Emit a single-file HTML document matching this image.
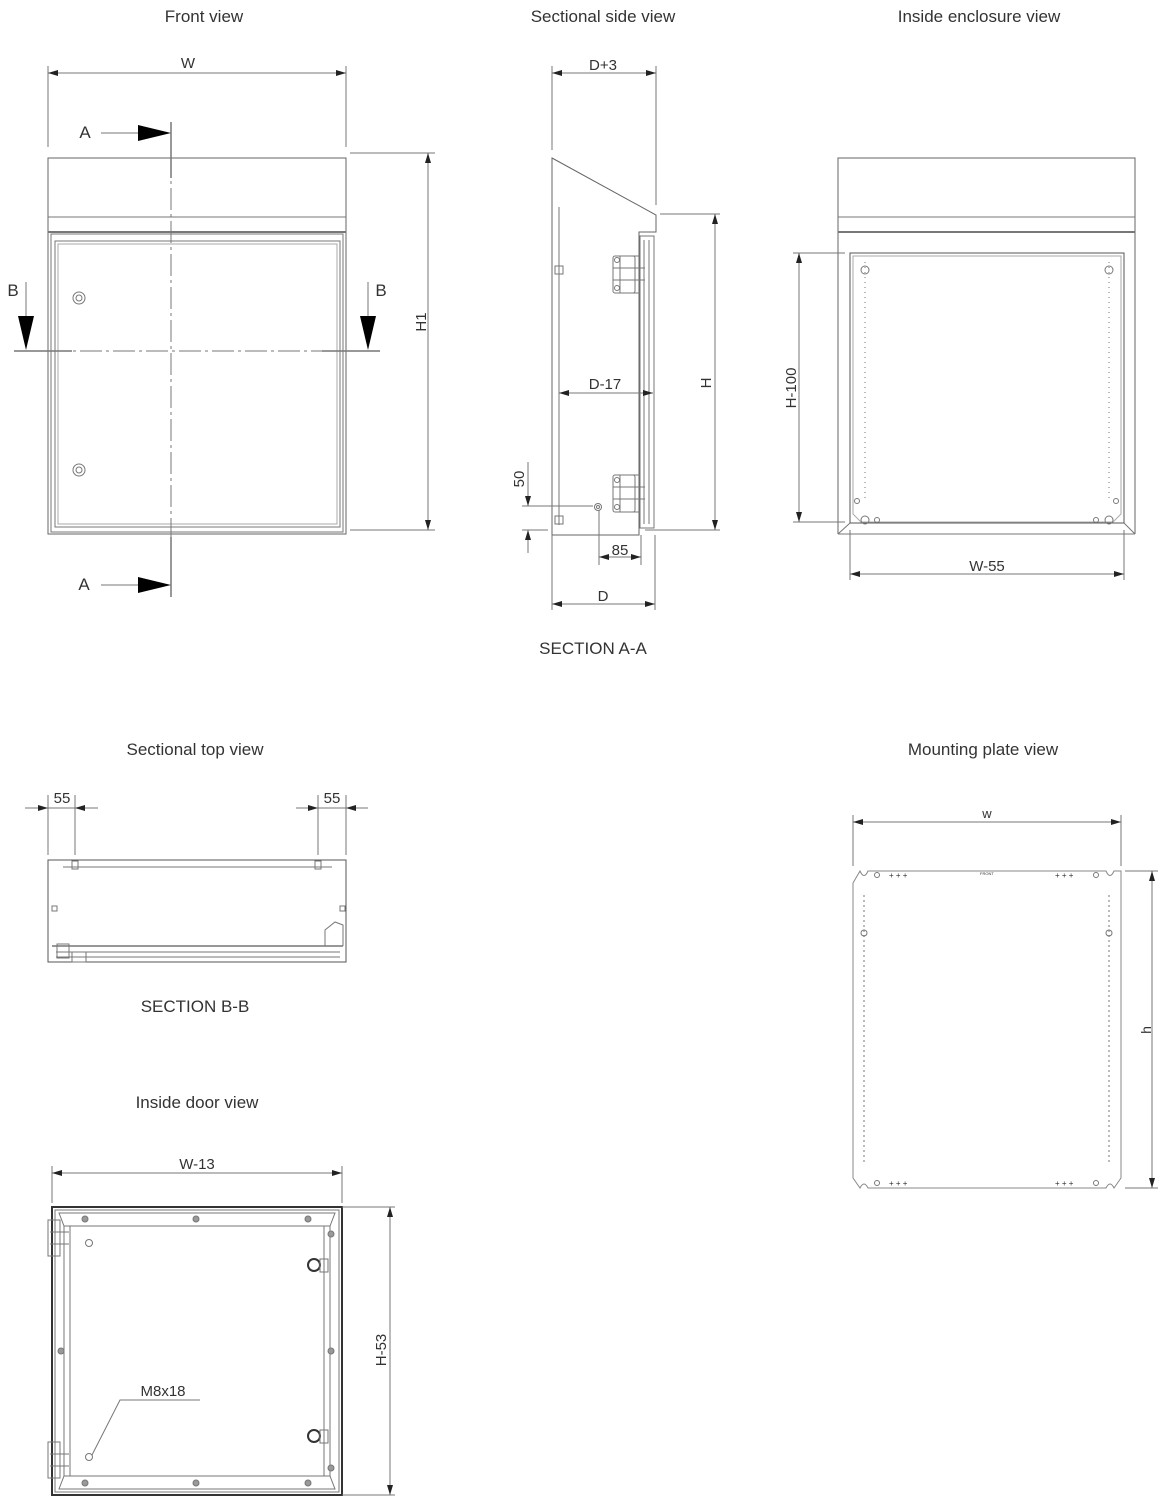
<!DOCTYPE html>
<html><head><meta charset="utf-8"><style>
html,body{margin:0;padding:0;background:#fff}
svg{display:block}
text{font-family:"Liberation Sans",sans-serif;fill:#333}
</style></head><body>
<svg width="1162" height="1500" viewBox="0 0 1162 1500" xmlns="http://www.w3.org/2000/svg">
<defs>
<marker id="ar" viewBox="0 0 10 6" refX="10" refY="3" markerWidth="10" markerHeight="6" orient="auto-start-reverse" markerUnits="userSpaceOnUse"><path d="M0,0 L10,3 L0,6 z" fill="#222"/></marker>
</defs>
<g font-size="17" text-anchor="middle">
<text x="204" y="22">Front view</text>
<text x="603" y="22">Sectional side view</text>
<text x="979" y="22">Inside enclosure view</text>
<text x="195" y="755">Sectional top view</text>
<text x="983" y="755">Mounting plate view</text>
<text x="197" y="1108">Inside door view</text>
<text x="593" y="654">SECTION A-A</text>
<text x="195" y="1012">SECTION B-B</text>
</g>

<g fill="none" stroke="#777" stroke-width="1">
<!-- FRONT VIEW -->
<line x1="48" y1="66" x2="48" y2="147"/><line x1="346" y1="66" x2="346" y2="147"/>
<line x1="48" y1="73" x2="346" y2="73" marker-start="url(#ar)" marker-end="url(#ar)"/>
<rect x="48" y="158" width="298" height="376" stroke="#666"/>
<line x1="48" y1="217" x2="346" y2="217"/>
<line x1="48" y1="232" x2="346" y2="232" stroke-width="2"/>
<rect x="51" y="234" width="292" height="298"/>
<rect x="55" y="241" width="285" height="286"/>
<rect x="58" y="244" width="279" height="280" stroke="#aaa"/>
<circle cx="79" cy="298" r="6"/><circle cx="79" cy="298" r="3"/>
<circle cx="79" cy="470" r="6"/><circle cx="79" cy="470" r="3"/>
<line x1="350" y1="153" x2="435" y2="153"/><line x1="350" y1="530" x2="435" y2="530"/>
<line x1="428" y1="153" x2="428" y2="530" marker-start="url(#ar)" marker-end="url(#ar)"/>
<line x1="171" y1="122" x2="171" y2="597" stroke-dasharray="22,4,3,4"/>
<line x1="171" y1="122" x2="171" y2="178" stroke-width="1.5"/>
<line x1="171" y1="537" x2="171" y2="597" stroke-width="1.5"/>
<line x1="14" y1="351" x2="380" y2="351" stroke-dasharray="22,4,3,4"/>
<line x1="14" y1="351" x2="72" y2="351" stroke-width="1.5"/>
<line x1="322" y1="351" x2="380" y2="351" stroke-width="1.5"/>
<line x1="101" y1="133" x2="138" y2="133"/><line x1="101" y1="585" x2="138" y2="585"/>
<line x1="26" y1="282" x2="26" y2="316"/><line x1="368" y1="282" x2="368" y2="316"/>

<!-- SIDE VIEW -->
<line x1="552" y1="66" x2="552" y2="150"/><line x1="656" y1="66" x2="656" y2="205"/>
<line x1="552" y1="73" x2="656" y2="73" marker-start="url(#ar)" marker-end="url(#ar)"/>
<path d="M552,158 L656,215 L656,232 L639,232 L639,535 L552,535 Z" stroke="#666"/>
<line x1="559" y1="207" x2="559" y2="525"/>
<rect x="640" y="236" width="14" height="292"/>
<line x1="644" y1="240" x2="644" y2="524"/><line x1="649" y1="240" x2="649" y2="524"/>
<rect x="613" y="256" width="22" height="37" rx="2"/><rect x="620" y="256" width="20" height="37"/>
<line x1="613" y1="268" x2="645" y2="268"/><line x1="613" y1="280" x2="645" y2="280"/>
<circle cx="617" cy="260" r="2.5"/><circle cx="617" cy="288" r="2.5"/>
<rect x="613" y="475" width="22" height="37" rx="2"/><rect x="620" y="475" width="20" height="37"/>
<line x1="613" y1="487" x2="645" y2="487"/><line x1="613" y1="499" x2="645" y2="499"/>
<circle cx="617" cy="480" r="2.5"/><circle cx="617" cy="507" r="2.5"/>
<rect x="555" y="266" width="8" height="8"/><rect x="555" y="516" width="8" height="8"/>
<circle cx="598" cy="507" r="3.5"/><circle cx="598" cy="507" r="1.5"/>
<line x1="559" y1="393" x2="653" y2="393" marker-start="url(#ar)" marker-end="url(#ar)"/>
<line x1="660" y1="214" x2="720" y2="214"/><line x1="645" y1="530" x2="720" y2="530"/>
<line x1="715" y1="214" x2="715" y2="530" marker-start="url(#ar)" marker-end="url(#ar)"/>
<line x1="522" y1="506" x2="593" y2="506"/><line x1="522" y1="530" x2="548" y2="530"/>
<line x1="528" y1="462" x2="528" y2="506" marker-end="url(#ar)"/>
<line x1="528" y1="553" x2="528" y2="530" marker-end="url(#ar)"/>
<line x1="599" y1="510" x2="599" y2="565"/><line x1="641" y1="535" x2="641" y2="565"/>
<line x1="599" y1="557" x2="641" y2="557" marker-start="url(#ar)" marker-end="url(#ar)"/>
<line x1="552" y1="535" x2="552" y2="610"/><line x1="655" y1="535" x2="655" y2="610"/>
<line x1="552" y1="604" x2="655" y2="604" marker-start="url(#ar)" marker-end="url(#ar)"/>

<!-- INSIDE ENCLOSURE -->
<path d="M838,534 L838,158 L1135,158 L1135,534" stroke="#666"/>
<line x1="838" y1="217" x2="1135" y2="217"/>
<line x1="838" y1="232" x2="1135" y2="232" stroke-width="2"/>
<path d="M850,253 L1124,253 L1124,523 L850,523 Z" stroke="#555"/>
<path d="M853,256 L1121,256 L1121,514 L1113,522 L861,522 L853,514 Z" stroke="#aaa"/>
<path d="M838,534 L850,523 M1135,534 L1124,523 M838,534 L1135,534"/>
<line x1="865" y1="262" x2="865" y2="500" stroke-dasharray="1,4"/>
<line x1="1109" y1="262" x2="1109" y2="500" stroke-dasharray="1,4"/>
<circle cx="865" cy="270" r="4"/><circle cx="1109" cy="270" r="4"/>
<circle cx="865" cy="520" r="4"/><circle cx="1109" cy="520" r="4"/>
<circle cx="857" cy="501" r="2.5"/><circle cx="1116" cy="501" r="2.5"/>
<circle cx="877" cy="520" r="2.5"/><circle cx="1096" cy="520" r="2.5"/>
<line x1="793" y1="253" x2="845" y2="253"/><line x1="793" y1="522" x2="845" y2="522"/>
<line x1="799" y1="253" x2="799" y2="522" marker-start="url(#ar)" marker-end="url(#ar)"/>
<line x1="850" y1="530" x2="850" y2="580"/><line x1="1124" y1="530" x2="1124" y2="580"/>
<line x1="850" y1="574" x2="1124" y2="574" marker-start="url(#ar)" marker-end="url(#ar)"/>

<!-- TOP VIEW -->
<line x1="25" y1="808" x2="98" y2="808"/><line x1="296" y1="808" x2="368" y2="808"/>
<line x1="25" y1="808" x2="48" y2="808" marker-end="url(#ar)"/>
<line x1="98" y1="808" x2="75" y2="808" marker-end="url(#ar)"/>
<line x1="296" y1="808" x2="318" y2="808" marker-end="url(#ar)"/>
<line x1="368" y1="808" x2="346" y2="808" marker-end="url(#ar)"/>
<line x1="48" y1="795" x2="48" y2="855"/><line x1="75" y1="795" x2="75" y2="855"/>
<line x1="318" y1="795" x2="318" y2="855"/><line x1="346" y1="795" x2="346" y2="855"/>
<rect x="48" y="860" width="298" height="102" stroke="#555"/>
<line x1="63" y1="867" x2="332" y2="867"/>
<rect x="72" y="861" width="6" height="8"/><rect x="315" y="861" width="6" height="8"/>
<line x1="52" y1="946" x2="343" y2="946" stroke-width="1.5"/>
<line x1="56" y1="952" x2="340" y2="952"/><line x1="56" y1="957" x2="340" y2="957"/>
<rect x="52" y="906" width="5" height="5"/><rect x="340" y="906" width="5" height="5"/>
<path d="M325,946 L325,930 L335,922 L343,925 L343,946"/>
<rect x="57" y="944" width="12" height="14"/><rect x="72" y="952" width="14" height="10"/>

<!-- INSIDE DOOR -->
<line x1="52" y1="1166" x2="52" y2="1203"/><line x1="342" y1="1166" x2="342" y2="1203"/>
<line x1="52" y1="1173" x2="342" y2="1173" marker-start="url(#ar)" marker-end="url(#ar)"/>
<rect x="52" y="1207" width="290" height="288" stroke="#333" stroke-width="2"/>
<rect x="55" y="1210" width="284" height="282"/>
<path d="M59,1213 L335,1213 L330,1226 L64,1226 Z"/>
<path d="M59,1489 L335,1489 L330,1476 L64,1476 Z"/>
<rect x="70" y="1226" width="254" height="250"/>
<line x1="64" y1="1226" x2="64" y2="1476"/><line x1="330" y1="1226" x2="330" y2="1476"/>
<rect x="48" y="1220" width="12" height="36"/><rect x="48" y="1442" width="12" height="36"/>
<line x1="50" y1="1232" x2="69" y2="1232"/><line x1="50" y1="1244" x2="69" y2="1244"/>
<line x1="50" y1="1454" x2="69" y2="1454"/><line x1="50" y1="1466" x2="69" y2="1466"/>
<g fill="#999">
<circle cx="85" cy="1219" r="3"/><circle cx="196" cy="1219" r="3"/><circle cx="308" cy="1219" r="3"/>
<circle cx="85" cy="1483" r="3"/><circle cx="196" cy="1483" r="3"/><circle cx="308" cy="1483" r="3"/>
<circle cx="61" cy="1351" r="3"/><circle cx="331" cy="1351" r="3"/>
<circle cx="331" cy="1234" r="3"/><circle cx="331" cy="1468" r="3"/>
</g>
<circle cx="89" cy="1243" r="3.5"/><circle cx="89" cy="1457" r="3.5"/>
<circle cx="314" cy="1265" r="6" stroke="#333" stroke-width="2"/><circle cx="314" cy="1436" r="6" stroke="#333" stroke-width="2"/>
<rect x="320" y="1259" width="8" height="13"/><rect x="320" y="1430" width="8" height="13"/>
<line x1="342" y1="1207" x2="395" y2="1207"/><line x1="342" y1="1495" x2="395" y2="1495"/>
<line x1="390" y1="1207" x2="390" y2="1495" marker-start="url(#ar)" marker-end="url(#ar)"/>
<polyline points="200,1400 120,1400 92,1455"/>

<!-- MOUNTING PLATE -->
<line x1="853" y1="815" x2="853" y2="866"/><line x1="1121" y1="815" x2="1121" y2="866"/>
<line x1="853" y1="822" x2="1121" y2="822" marker-start="url(#ar)" marker-end="url(#ar)"/>
<path d="M868,871 L1106,871 Q1110,880 1114,871 L1121,871 L1121,883 L1121,1178 L1114,1188 Q1110,1180 1106,1188 L868,1188 Q864,1180 860,1188 L853,1178 L853,883 L860,871 Q864,880 868,871 Z" stroke="#888"/>
<line x1="864" y1="895" x2="864" y2="1165" stroke-dasharray="2,3"/>
<line x1="1109" y1="895" x2="1109" y2="1165" stroke-dasharray="2,3"/>
<circle cx="864" cy="933" r="3"/><circle cx="1109" cy="933" r="3"/>
<circle cx="877" cy="875" r="2.5"/><circle cx="1096" cy="875" r="2.5"/>
<circle cx="877" cy="1183" r="2.5"/><circle cx="1096" cy="1183" r="2.5"/>
<line x1="1125" y1="871" x2="1158" y2="871"/><line x1="1125" y1="1188" x2="1158" y2="1188"/>
<line x1="1152" y1="871" x2="1152" y2="1188" marker-start="url(#ar)" marker-end="url(#ar)"/>
</g>
<g fill="#aaa">
<text x="889" y="878" font-size="8">+ + +</text><text x="1055" y="878" font-size="8">+ + +</text>
<text x="889" y="1186" font-size="8">+ + +</text><text x="1055" y="1186" font-size="8">+ + +</text>
<text x="980" y="875" font-size="4">FRONT</text>
</g>
<!-- section arrows -->
<g fill="#000">
<path d="M138,125 L171,133 L138,141 Z"/><path d="M138,577 L171,585 L138,593 Z"/>
<path d="M18,316 L34,316 L26,350 Z"/><path d="M360,316 L376,316 L368,350 Z"/>
</g>
<g font-size="17" text-anchor="middle">
<text x="85" y="138">A</text><text x="84" y="590">A</text>
<text x="13" y="296">B</text><text x="381" y="296">B</text>
</g>
<g font-size="15" text-anchor="middle">
<text x="188" y="68">W</text>
<text x="603" y="70">D+3</text>
<text x="605" y="389">D-17</text>
<text x="620" y="555">85</text>
<text x="603" y="601">D</text>
<text x="987" y="571">W-55</text>
<text x="62" y="803">55</text><text x="332" y="803">55</text>
<text x="197" y="1169">W-13</text>
<text x="163" y="1396">M8x18</text>
<text x="987" y="818" font-size="13">w</text>
<text transform="translate(426,322) rotate(-90)">H1</text>
<text transform="translate(711,383) rotate(-90)">H</text>
<text transform="translate(524,479) rotate(-90)">50</text>
<text transform="translate(796,388) rotate(-90)">H-100</text>
<text transform="translate(386,1350) rotate(-90)">H-53</text>
<text transform="translate(1151,1030) rotate(-90)" font-size="14">h</text>
</g>
</svg>
</body></html>
